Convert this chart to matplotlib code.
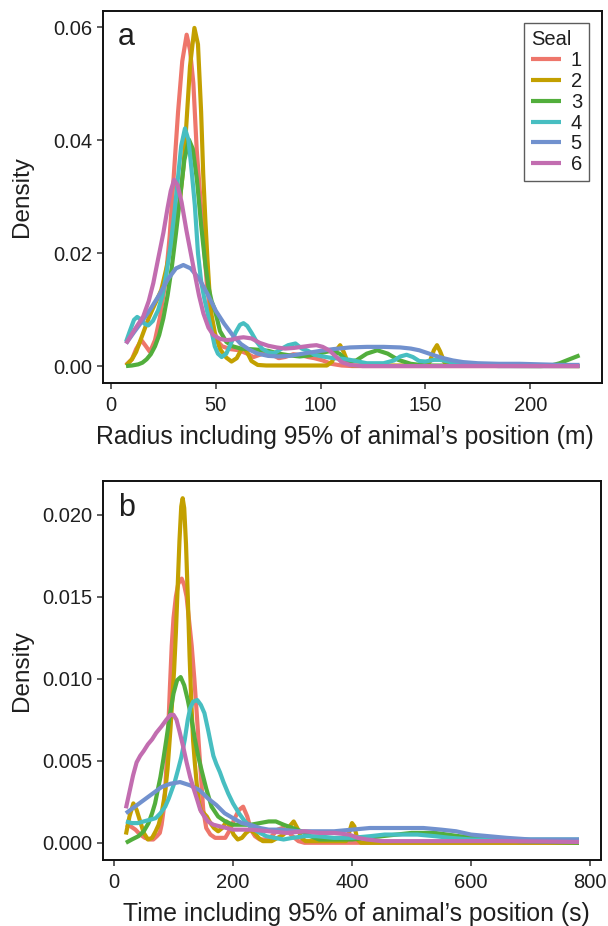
import matplotlib
matplotlib.use("Agg")
import matplotlib.pyplot as plt
from matplotlib.ticker import FormatStrFormatter

plt.rcParams['font.family'] = ['Liberation Sans', 'DejaVu Sans']

seals = ["1", "2", "3", "4", "5", "6"]
seal_colors = ["#EE766B", "#C3A000", "#52AE3C", "#47BEC1", "#7191CE", "#C26DB0"]

# ---- Panel a: radius including 95% of position (m) ----
radius_x_s1 = [7.2, 10, 12, 14.5, 16.5, 18.6, 21, 23.4, 26, 28, 30, 32, 34, 36.1, 37.7, 39.3,
               40.9, 43.3, 45.7, 48, 50, 53, 57, 61, 65, 68, 71, 74, 77, 80, 83, 87, 91, 94,
               97, 101, 105, 110, 115, 223.5]
radius_d_s1 = [0.0002, 0.0012, 0.0030, 0.0046, 0.0036, 0.0025, 0.0046, 0.0087, 0.0150, 0.0230,
               0.0340, 0.0450, 0.0540, 0.0587, 0.0560, 0.0501, 0.0383, 0.0265, 0.0147, 0.0072,
               0.0048, 0.0035, 0.0030, 0.0028, 0.0022, 0.0016, 0.0020, 0.0024, 0.0020, 0.0014,
               0.0016, 0.0021, 0.0019, 0.0016, 0.0014, 0.0010, 0.0004, 0.0001, 0.0, 0.0]

radius_x_s2 = [7.2, 10, 12, 14, 16, 18, 20, 22, 24, 26.6, 29, 31, 32.9, 34.5, 35.7, 37.7, 39.8,
               41.5, 43, 44, 45, 46, 47, 48, 49.6, 52, 55, 57.5, 60, 62, 63.5, 65, 67, 70, 74,
               103, 105.5, 107.5, 109.3, 111, 113, 115, 150, 152, 154, 155.5, 157, 159, 161, 223.5]
radius_d_s2 = [0.0001, 0.0012, 0.0025, 0.0045, 0.0065, 0.0085, 0.0102, 0.0118, 0.0135, 0.0176,
               0.0220, 0.0260, 0.0295, 0.0350, 0.0413, 0.0531, 0.0599, 0.0570, 0.0450, 0.0340,
               0.0260, 0.0190, 0.0130, 0.0090, 0.0058, 0.0030, 0.0015, 0.0008, 0.0014, 0.0028,
               0.0032, 0.0024, 0.0009, 0.0002, 0.0001, 0.0001, 0.0008, 0.0028, 0.0037, 0.0025,
               0.0006, 0.0001, 0.0001, 0.0007, 0.0028, 0.0037, 0.0026, 0.0007, 0.0001, 0.0]

radius_x_s3 = [7.2, 10, 13, 15, 17, 19, 21, 23, 25, 27, 29, 31, 33, 35, 37.2, 39, 41, 43, 45,
               46.5, 48, 49.6, 52, 55, 58, 62, 66, 70, 75, 80, 85, 90, 95, 100, 105, 109, 113,
               117, 122, 127, 132, 137, 143, 150, 205, 210, 214, 218, 223.5]
radius_d_s3 = [0.0, 0.0001, 0.0003, 0.0006, 0.0012, 0.0021, 0.0035, 0.0055, 0.0085, 0.0125,
               0.0175, 0.0235, 0.0300, 0.0365, 0.0401, 0.0385, 0.0330, 0.0250, 0.0180, 0.0140,
               0.0115, 0.0099, 0.0062, 0.0043, 0.0035, 0.0031, 0.0030, 0.0029, 0.0027, 0.0022,
               0.0019, 0.0017, 0.0019, 0.0023, 0.0027, 0.0022, 0.0008, 0.0010, 0.0022, 0.0028,
               0.0022, 0.0011, 0.0004, 0.0001, 0.0, 0.0001, 0.0005, 0.0011, 0.0019]

radius_x_s4 = [7.2, 9, 11, 12.5, 14, 16, 17.8, 20, 22.5, 24.5, 26.5, 28.5, 30.5, 32, 33.5, 35.3,
               37, 38.5, 40, 41.5, 43, 44.5, 46, 47.5, 49.5, 51, 52.8, 55, 57, 59.5, 61.5, 63.2,
               65, 67.2, 69.5, 72, 75, 78, 81, 84.5, 88, 91, 94, 97, 101, 106, 110, 114, 118,
               122, 130, 135, 138, 141, 144, 147, 150, 154, 157, 161, 165, 173, 185, 223.5]
radius_d_s4 = [0.0043, 0.0062, 0.0082, 0.0087, 0.0083, 0.0075, 0.0072, 0.0080, 0.0099, 0.0125,
               0.0165, 0.0215, 0.0280, 0.0335, 0.0390, 0.0421, 0.0400, 0.0345, 0.0285, 0.0200,
               0.0150, 0.0120, 0.0095, 0.0070, 0.0035, 0.0022, 0.0016, 0.0022, 0.0038, 0.0060,
               0.0073, 0.0076, 0.0071, 0.0058, 0.0043, 0.0031, 0.0024, 0.0023, 0.0030, 0.0037,
               0.0040, 0.0031, 0.0027, 0.0020, 0.0017, 0.0014, 0.0013, 0.0011, 0.0008, 0.0005,
               0.0005, 0.0010, 0.0017, 0.0020, 0.0016, 0.0009, 0.0008, 0.0011, 0.0011, 0.0008,
               0.0005, 0.0002, 0.0, 0.0]

radius_x_s5 = [7.2, 11, 15, 19, 23, 27, 31, 34.5, 38, 42, 46, 50, 54, 58, 62, 66, 70, 75, 80,
               85, 90, 95, 100, 106, 114, 122, 130, 138, 143, 147, 151, 155, 158.5, 163, 168,
               175, 185, 195, 205, 215, 223.5]
radius_d_s5 = [0.0040, 0.0060, 0.0080, 0.0102, 0.0126, 0.0153, 0.0173, 0.0179, 0.0173, 0.0155,
               0.0128, 0.0098, 0.0075, 0.0055, 0.0039, 0.0029, 0.0022, 0.0018, 0.0017, 0.0018,
               0.0021, 0.0024, 0.0027, 0.0030, 0.0033, 0.0034, 0.0034, 0.0033, 0.0031, 0.0028,
               0.0023, 0.0018, 0.0014, 0.0010, 0.0007, 0.0005, 0.0004, 0.0004, 0.0003, 0.0002,
               0.0002]

radius_x_s6 = [7.2, 11, 15.4, 18, 20.2, 22.5, 25, 27, 28.5, 30.1, 31.8, 33.7, 36, 39.3, 42,
               44.1, 46.5, 48.8, 52, 55.2, 58, 61, 63.2, 67, 71, 75, 79, 83, 87, 91, 95, 98,
               101, 104, 107, 110, 114, 120, 223.5]
radius_d_s6 = [0.0040, 0.0063, 0.0088, 0.0115, 0.0147, 0.0190, 0.0236, 0.0280, 0.0310, 0.0330,
               0.0320, 0.0290, 0.0240, 0.0176, 0.0125, 0.0093, 0.0068, 0.0055, 0.0048, 0.0046,
               0.0047, 0.0050, 0.0051, 0.0049, 0.0041, 0.0036, 0.0033, 0.0031, 0.0032, 0.0034,
               0.0036, 0.0037, 0.0034, 0.0028, 0.0018, 0.0007, 0.0002, 0.0, 0.0]

# ---- Panel b: time including 95% of position (s) ----
time_x_s1 = [20, 28, 36, 44, 52, 60, 66, 72, 77, 80, 83, 86, 88.5, 91, 94, 97, 100, 104, 108,
             113.8, 118, 122, 126, 130.6, 135, 139, 144.5, 150, 155, 162, 170, 180, 187, 195,
             203, 210, 217, 224, 230, 237, 245, 256, 265, 275, 283, 292, 300, 310, 320, 781.5]
time_d_s1 = [0.0011, 0.0010, 0.0008, 0.0005, 0.0003, 0.0002, 0.0002, 0.0004, 0.0006, 0.0011,
             0.0019, 0.0033, 0.0049, 0.0068, 0.0095, 0.0120, 0.0137, 0.0150, 0.0158, 0.0161,
             0.0157, 0.0150, 0.0136, 0.0120, 0.0100, 0.0079, 0.0049, 0.0020, 0.0009, 0.0005,
             0.0003, 0.0003, 0.0003, 0.0008, 0.0015, 0.0020, 0.0022, 0.0016, 0.0008, 0.0004,
             0.0002, 0.0002, 0.0004, 0.0008, 0.0009, 0.0007, 0.0004, 0.0001, 0.0, 0.0]

time_x_s2 = [20, 26, 32.5, 38, 44, 50, 57, 64, 70, 75, 80, 85.7, 90, 95, 98, 101, 104, 107,
             110, 113, 115.4, 118, 121, 124, 127, 130, 133, 136, 139, 143, 147, 151, 156, 162,
             168, 175, 182, 189, 195, 201, 208, 215, 222, 229, 236, 243, 250, 265, 275, 285,
             295, 302, 308, 315, 322, 390, 395, 400, 404, 409, 415, 781.5]
time_d_s2 = [0.0005, 0.0016, 0.0024, 0.0020, 0.0013, 0.0006, 0.0002, 0.0003, 0.0007, 0.0011,
             0.0018, 0.0030, 0.0045, 0.0070, 0.0088, 0.0105, 0.0128, 0.0156, 0.0184, 0.0205,
             0.0210, 0.0204, 0.0182, 0.0150, 0.0114, 0.0085, 0.0062, 0.0048, 0.0036, 0.0024,
             0.0019, 0.0018, 0.0016, 0.0012, 0.0009, 0.0007, 0.0009, 0.0013, 0.0010, 0.0005,
             0.0002, 0.0003, 0.0006, 0.0008, 0.0006, 0.0003, 0.0001, 0.0001, 0.0003, 0.0005,
             0.0010, 0.0013, 0.0009, 0.0003, 0.0001, 0.0001, 0.0006, 0.0012, 0.0010, 0.0002,
             0.0, 0.0]

time_x_s3 = [20, 30, 41, 50, 58, 64, 69, 74, 78, 83, 88, 94, 100, 106, 112, 118, 124, 130, 136,
             142, 148, 155, 164, 175, 187, 200, 215, 230, 245, 260, 272, 285, 300, 315, 330,
             345, 360, 400, 450, 500, 540, 580, 620, 680, 781.5]
time_d_s3 = [0.0, 0.0002, 0.0004, 0.0007, 0.0012, 0.0018, 0.0024, 0.0033, 0.0040, 0.0051,
             0.0063, 0.0078, 0.0091, 0.0099, 0.0101, 0.0096, 0.0087, 0.0076, 0.0063, 0.0052,
             0.0043, 0.0033, 0.0022, 0.0016, 0.0013, 0.0011, 0.0011, 0.0011, 0.0012, 0.0013,
             0.0013, 0.0011, 0.0009, 0.0007, 0.0004, 0.0002, 0.0002, 0.0002, 0.0004, 0.0006,
             0.0006, 0.0004, 0.0003, 0.0001, 0.0]

time_x_s4 = [20, 30, 40, 50, 60, 70, 78, 86, 92, 97, 102, 108, 113, 119, 124, 128, 133, 140,
             146, 152, 158, 163, 167, 172, 178, 184, 192, 200, 210, 220, 229, 240, 256, 270,
             285, 300, 320, 340, 370, 400, 430, 455, 480, 510, 540, 565, 600, 650, 700, 781.5]
time_d_s4 = [0.0013, 0.0012, 0.0012, 0.0013, 0.0014, 0.0015, 0.0018, 0.0022, 0.0027, 0.0032,
             0.0037, 0.0045, 0.0052, 0.0063, 0.0075, 0.0082, 0.0086, 0.0087, 0.0084, 0.0079,
             0.0069, 0.0060, 0.0053, 0.0048, 0.0043, 0.0037, 0.0030, 0.0024, 0.0018, 0.0013,
             0.0010, 0.0007, 0.0004, 0.0003, 0.0002, 0.0003, 0.0004, 0.0004, 0.0003, 0.0003,
             0.0004, 0.0005, 0.0005, 0.0005, 0.0004, 0.0003, 0.0002, 0.0002, 0.0002, 0.0002]

time_x_s5 = [20, 35, 50, 65, 80, 95, 111, 128, 144, 158, 172, 186, 200, 215, 229, 245, 260,
             280, 310, 340, 370, 400, 430, 460, 490, 520, 550, 575, 600, 630, 660, 700, 740, 781.5]
time_d_s5 = [0.0018, 0.0022, 0.0026, 0.0030, 0.0034, 0.0036, 0.0037, 0.0035, 0.0032, 0.0027,
             0.0023, 0.0018, 0.0015, 0.0012, 0.0011, 0.0009, 0.0008, 0.0008, 0.0007, 0.0007,
             0.0007, 0.0008, 0.0009, 0.0009, 0.0009, 0.0009, 0.0008, 0.0007, 0.0005, 0.0004,
             0.0003, 0.0002, 0.0002, 0.0002]

time_x_s6 = [20, 26, 32, 38, 44, 50, 57, 64, 71, 80, 88, 95, 100, 105, 110, 116, 122, 128,
             133, 140, 145, 150, 158, 167, 178, 189, 200, 230, 260, 290, 320, 345, 370, 395,
             410, 425, 450, 550, 650, 781.5]
time_d_s6 = [0.0021, 0.0031, 0.0041, 0.0049, 0.0053, 0.0056, 0.0060, 0.0063, 0.0067, 0.0071,
             0.0075, 0.0078, 0.0078, 0.0075, 0.0068, 0.0059, 0.0049, 0.0040, 0.0034, 0.0026,
             0.0020, 0.0017, 0.0013, 0.0011, 0.0010, 0.0009, 0.0008, 0.0008, 0.0007, 0.0006,
             0.0007, 0.0006, 0.0006, 0.0005, 0.0003, 0.0002, 0.0001, 0.0001, 0.0001, 0.00005]

radius_curves = [(radius_x_s1, radius_d_s1), (radius_x_s2, radius_d_s2),
                 (radius_x_s3, radius_d_s3), (radius_x_s4, radius_d_s4),
                 (radius_x_s5, radius_d_s5), (radius_x_s6, radius_d_s6)]
time_curves = [(time_x_s1, time_d_s1), (time_x_s2, time_d_s2),
               (time_x_s3, time_d_s3), (time_x_s4, time_d_s4),
               (time_x_s5, time_d_s5), (time_x_s6, time_d_s6)]

radius_xticks = [0, 50, 100, 150, 200]
radius_yticks = [0.00, 0.02, 0.04, 0.06]
time_xticks = [0, 200, 400, 600, 800]
time_yticks = [0.000, 0.005, 0.010, 0.015, 0.020]

W, H = 608, 926
fig = plt.figure(figsize=(W / 100, H / 100), dpi=100)
ax_a = fig.add_axes([103 / W, 1 - 383 / H, 499 / W, 372 / H])
ax_b = fig.add_axes([103 / W, 1 - 860 / H, 498 / W, 379 / H])

TEXT = "#1f1f1f"
LW = 3.0


def style(ax, xticks, yticks, yfmt, xlim, ylim, xlabel, xlabel_x):
    ax.set_xlim(*xlim)
    ax.set_ylim(*ylim)
    ax.set_xticks(xticks)
    ax.set_yticks(yticks)
    ax.yaxis.set_major_formatter(FormatStrFormatter(yfmt))
    for s in ax.spines.values():
        s.set_linewidth(1.4)
        s.set_color("#111111")
    ax.tick_params(direction="out", length=4.5, width=1.1, color="#333333",
                   labelsize=14.5, labelcolor=TEXT)
    ax.tick_params(axis="x", pad=5)
    ax.tick_params(axis="y", pad=3.5)
    ax.set_xlabel(xlabel, fontsize=17.8, color=TEXT, labelpad=7)
    ax.xaxis.label.set_x(xlabel_x)
    ax.set_ylabel("Density", fontsize=17.5, color=TEXT)
    # keep both y titles at the same horizontal position
    ax.yaxis.set_label_coords(-70 / 499, 0.5)


for (xs, ys), c, s in zip(radius_curves, seal_colors, seals):
    ax_a.plot(xs, ys, color=c, lw=LW, label=s, solid_joinstyle="round",
              solid_capstyle="butt")
for (xs, ys), c, s in zip(time_curves, seal_colors, seals):
    ax_b.plot(xs, ys, color=c, lw=LW, label=s, solid_joinstyle="round",
              solid_capstyle="butt")

style(ax_a, radius_xticks, radius_yticks, "%.2f", (-3.8, 234.2), (-0.0030, 0.0629),
      "Radius including 95% of animal\u2019s position (m)", 0.484)
style(ax_b, time_xticks, time_yticks, "%.3f", (-18.5, 818.5), (-0.00105, 0.02205),
      "Time including 95% of animal\u2019s position (s)", 0.509)

ax_a.text(0.030, 0.9086, "a", transform=ax_a.transAxes, fontsize=22, color=TEXT,
          va="baseline", ha="left")
ax_b.text(0.030, 0.9084, "b", transform=ax_b.transAxes, fontsize=22, color=TEXT,
          va="baseline", ha="left")

leg = ax_a.legend(title="Seal", loc="upper right", bbox_to_anchor=(0.974, 0.967),
                  borderaxespad=0, fontsize=14.5, title_fontsize=14.5, frameon=True,
                  fancybox=False, edgecolor="#333333", handlelength=1.45,
                  handletextpad=0.5, labelspacing=0.09, borderpad=0.35,
                  alignment="left")
leg.get_frame().set_linewidth(1.0)
for t in leg.get_texts():
    t.set_color(TEXT)
leg.get_title().set_color(TEXT)

fig.savefig("out.png", dpi=100)
